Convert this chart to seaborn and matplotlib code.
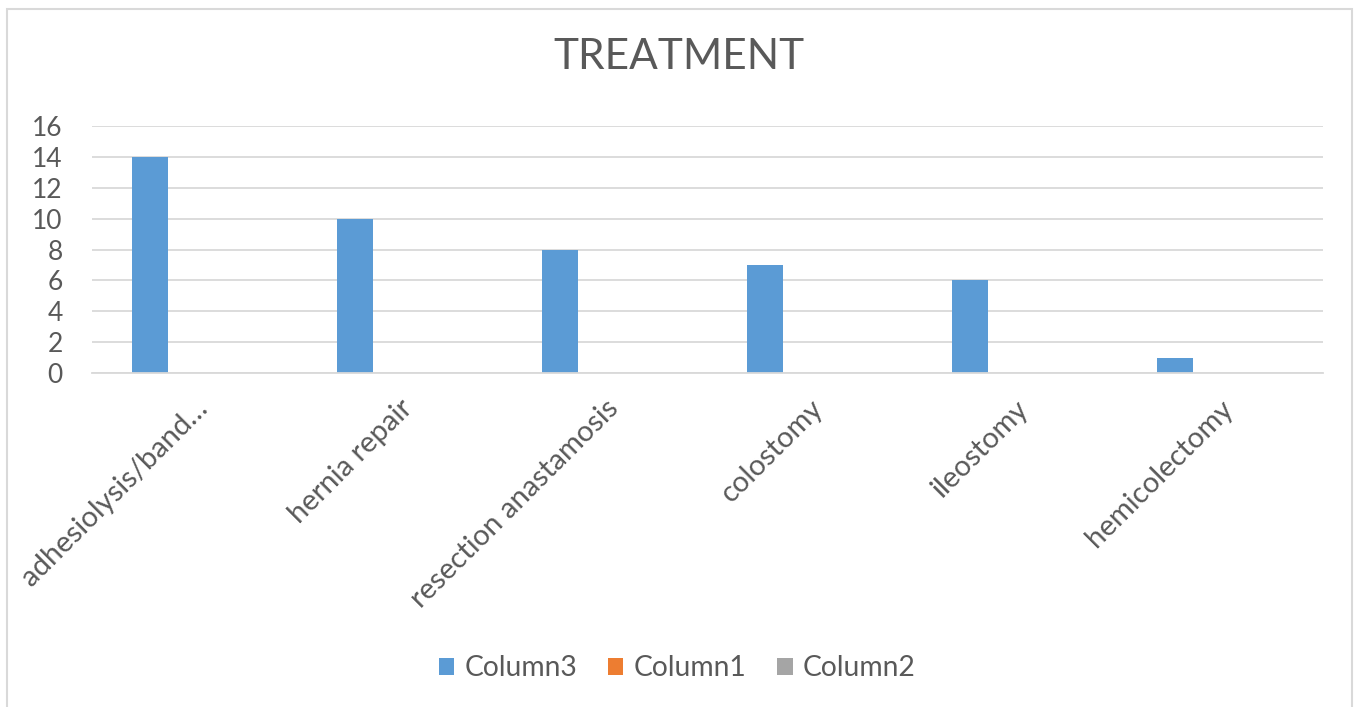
import pandas as pd
import matplotlib.pyplot as plt
import seaborn as sns
from matplotlib.patches import Patch, Rectangle

sns.set_theme(style="white")
plt.rcParams['font.family'] = ['Lato', 'DejaVu Sans']

# Chart data
categories = ["adhesiolysis/band…", "hernia repair", "resection anastamosis",
              "colostomy", "ileostomy", "hemicolectomy"]
column3 = [14, 10, 8, 7, 6, 1]
column1 = [0, 0, 0, 0, 0, 0]
column2 = [0, 0, 0, 0, 0, 0]
series_names = ["Column3", "Column1", "Column2"]
colors = ["#5B9BD5", "#ED7D31", "#A5A5A5"]

df = pd.DataFrame({
    "category": categories * 3,
    "series": [s for s in series_names for _ in categories],
    "value": column3 + column1 + column2,
})

text_color = "#595959"
grid_color = "#D9D9D9"

fig = plt.figure(figsize=(13.58, 7.07), dpi=100)
ax = fig.add_axes([0.0677, 0.4724, 0.9063, 0.3494])

sns.barplot(data=df, x="category", y="value", hue="series",
            hue_order=series_names, palette=colors, order=categories,
            width=0.658, gap=0.2, linewidth=0, saturation=1,
            legend=False, ax=ax)

ax.set_ylim(0, 16)
ax.set_yticks(range(0, 17, 2))
ax.yaxis.grid(True, color=grid_color, linewidth=1.3)
ax.set_axisbelow(True)
for side in ["top", "right", "left"]:
    ax.spines[side].set_visible(False)
ax.spines["bottom"].set_color(grid_color)
ax.spines["bottom"].set_linewidth(1.3)
ax.set_xlabel("")
ax.set_ylabel("")
ax.tick_params(axis="both", length=0, colors=text_color)
ax.tick_params(axis="y", pad=21, labelsize=19)
ax.tick_params(axis="x", pad=16, labelsize=21)
plt.setp(ax.get_xticklabels(), rotation=45, ha="right", rotation_mode="anchor")

fig.text(0.5, 0.92, "TREATMENT", ha="center", va="center",
         fontsize=30.5, color=text_color)

handles = [Patch(facecolor=c, edgecolor="none") for c in colors]
fig.legend(handles, series_names, loc="center", bbox_to_anchor=(0.4985, 0.055),
           ncol=3, frameon=False, fontsize=20.3, labelcolor=text_color,
           handlelength=0.55, handleheight=0.55, handletextpad=0.35,
           columnspacing=1.1)

# Chart area border
fig.patches.append(Rectangle((0.0055, -0.01), 0.99, 0.997, transform=fig.transFigure,
                             fill=False, edgecolor=grid_color, linewidth=1.5))

fig.savefig("out.png", dpi=100)
